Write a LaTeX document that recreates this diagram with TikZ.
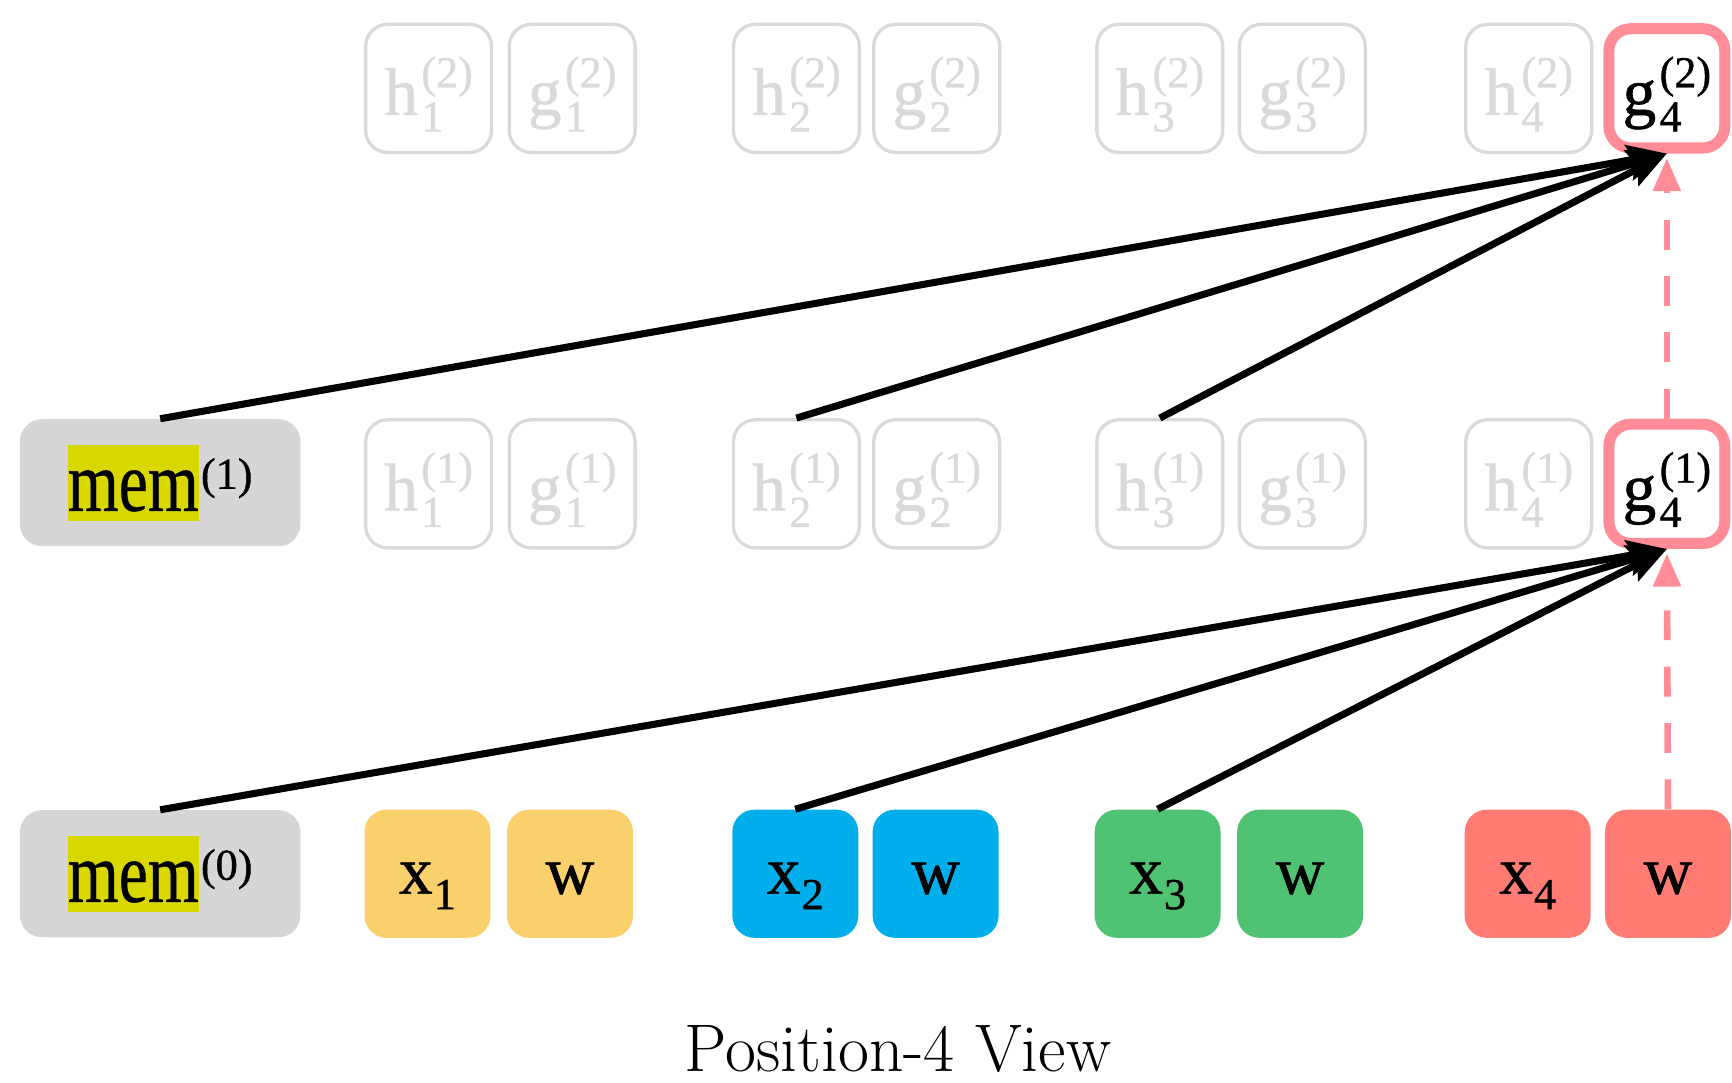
\documentclass[tikz,border=0pt]{standalone}
\usepackage{fontspec}
\usetikzlibrary{arrows.meta}
\newfontfamily\cellfont[FakeBold=0.9]{Liberation Serif}
\newfontfamily\memfont[FakeStretch=0.76,FakeBold=0.4]{Liberation Serif}
\definecolor{memgrey}{HTML}{D6D6D6}
\definecolor{hlyellow}{HTML}{D8D800}
\definecolor{ghostgrey}{HTML}{DADADA}
\definecolor{pinkc}{HTML}{FF8C96}
\definecolor{tokyellow}{HTML}{FAD06C}
\definecolor{tokblue}{HTML}{00AEEB}
\definecolor{tokgreen}{HTML}{50C273}
\definecolor{tokred}{HTML}{FF7B73}
\setlength{\fboxsep}{0pt}
\newcommand\scr[1]{{\cellfont\fontsize{20}{21}\selectfont #1}}
\newcommand\cellss[3]{#1\kern1.5pt\rlap{\raisebox{12.5pt}{\scr{(#3)}}}\rlap{\raisebox{-7.5pt}{\scr{#2}}}\phantom{\scr{(#3)}}}
\newcommand\cellsub[2]{#1\kern0.5pt\raisebox{-7pt}{\scr{#2}}}
\newcommand\memtext[1]{{\memfont\fontsize{39}{40}\selectfont\colorbox{hlyellow}{\rule[-4.5pt]{0pt}{34.5pt}mem}}\kern1pt\raisebox{10pt}{\scr{(#1)}}}
\tikzset{
  cell/.style={rectangle, rounded corners=10pt, minimum width=57pt, minimum height=58pt, inner sep=0pt, font=\cellfont\fontsize{30.5}{32}\selectfont, text height=28pt, text depth=4pt},
  ghost/.style={cell, draw=ghostgrey, line width=1.5pt, text=ghostgrey},
  focus/.style={cell, draw=pinkc, line width=5pt, fill=white, text=black, minimum width=52.5pt, minimum height=54pt},
  tok/.style={cell, text=black, text height=24pt, text depth=6pt},
  membox/.style={rectangle, rounded corners=10pt, fill=memgrey, minimum width=127pt, minimum height=57.5pt, inner sep=0pt},
  arr/.style={line width=3.2pt, -{Stealth[length=18pt,width=14pt,inset=3pt]}},
  pinkarr/.style={draw=pinkc, line width=3pt, dash pattern=on 13.5pt off 12pt, shorten >=2pt, -{Triangle[length=15pt,width=12pt]}}
}
\begin{document}
\begin{tikzpicture}[x=0.5pt, y=-0.5pt]
\useasboundingbox (0,0) rectangle (1568,980);
% top row
\node[ghost] (h12) at (388,80) {\cellss{h}{1}{2}};
\node[ghost] (g12) at (518,80) {\cellss{g}{1}{2}};
\node[ghost] (h22) at (721,80) {\cellss{h}{2}{2}};
\node[ghost] (g22) at (848,80) {\cellss{g}{2}{2}};
\node[ghost] (h32) at (1050,80) {\cellss{h}{3}{2}};
\node[ghost] (g32) at (1179,80) {\cellss{g}{3}{2}};
\node[ghost] (h42) at (1384,80) {\cellss{h}{4}{2}};
\node[focus] (g42) at (1509,80) {\cellss{g}{4}{2}};
% middle row
\node[membox] (mem1) at (145,437) {\memtext{1}};
\node[ghost] (h11) at (388,438) {\cellss{h}{1}{1}};
\node[ghost] (g11) at (518,438) {\cellss{g}{1}{1}};
\node[ghost] (h21) at (721,438) {\cellss{h}{2}{1}};
\node[ghost] (g21) at (848,438) {\cellss{g}{2}{1}};
\node[ghost] (h31) at (1050,438) {\cellss{h}{3}{1}};
\node[ghost] (g31) at (1179,438) {\cellss{g}{3}{1}};
\node[ghost] (h41) at (1384,438) {\cellss{h}{4}{1}};
\node[focus] (g41) at (1509,438) {\cellss{g}{4}{1}};
% bottom row
\node[membox] (mem0) at (145,791) {\memtext{0}};
\node[tok, fill=tokyellow] (x1) at (387,791) {\cellsub{x}{1}};
\node[tok, fill=tokyellow] (w1) at (516,791) {w};
\node[tok, fill=tokblue] (x2) at (720,791) {\cellsub{x}{2}};
\node[tok, fill=tokblue] (w2) at (847,791) {w};
\node[tok, fill=tokgreen] (x3) at (1048,791) {\cellsub{x}{3}};
\node[tok, fill=tokgreen] (w3) at (1177,791) {w};
\node[tok, fill=tokred] (x4) at (1383,791) {\cellsub{x}{4}};
\node[tok, fill=tokred] (w4) at (1510,791) {w};
% arrows
\draw[arr] (mem1.north) -- (g42.south);
\draw[arr] (h21.north) -- (g42.south);
\draw[arr] (h31.north) -- (g42.south);
\draw[arr] (mem0.north) -- (g41.south);
\draw[arr] (x2.north) -- (g41.south);
\draw[arr] (x3.north) -- (g41.south);
\draw[pinkarr] (w4.north) -- (g41.south);
\draw[pinkarr] (g41.north) -- (g42.south);
% title
\node (title) at (813,950) {\fontsize{30.5}{32}\selectfont Position-4 View};
\end{tikzpicture}
\end{document}
